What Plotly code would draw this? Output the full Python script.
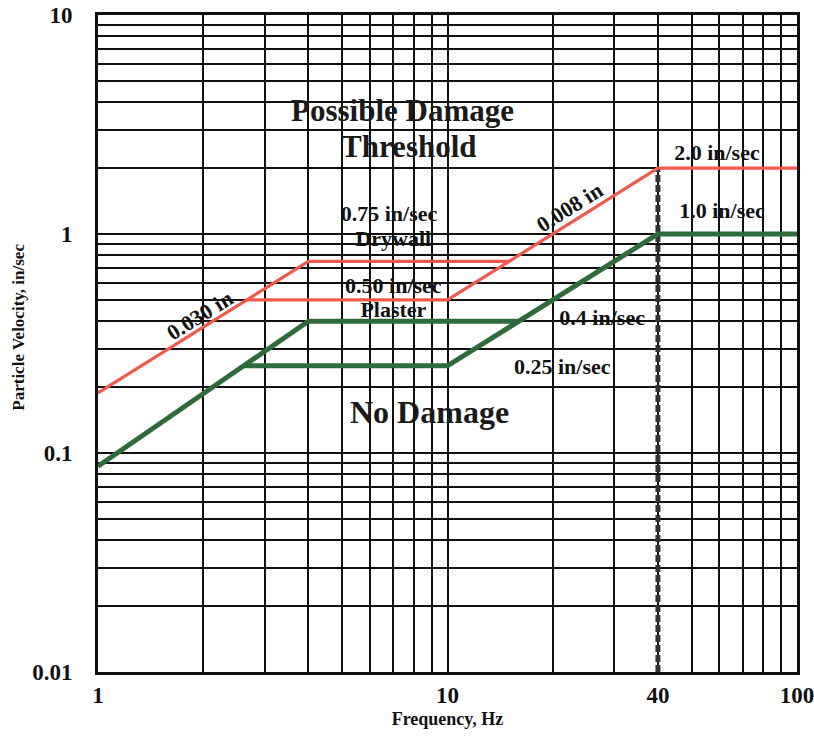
import math
import plotly.graph_objects as go

# ---- data ----
red_f = [1, 4, 15, None, 2.65, 10, 40, 100]
red_v = [0.188, 0.75, 0.75, None, 0.5, 0.5, 2.0, 2.0]

green_f = [1, 2.6, 4, 16, None, 2.6, 10, 40, 100]
green_v = [0.087, 0.25, 0.4, 0.4, None, 0.25, 0.25, 1.0, 1.0]

limit_f = [40, 40]
limit_v = [0.01, 2.0]

x_tickvals = [1, 2, 3, 4, 5, 6, 7, 8, 9, 10, 20, 30, 40, 50, 60, 70, 80, 90, 100]
x_ticktext = ["1", "", "", "", "", "", "", "", "", "10", "", "", "40", "", "", "", "", "", "100"]
y_tickvals = [0.01, 0.02, 0.03, 0.04, 0.05, 0.06, 0.07, 0.08, 0.09,
              0.1, 0.2, 0.3, 0.4, 0.5, 0.6, 0.7, 0.8, 0.9,
              1, 2, 3, 4, 5, 6, 7, 8, 9, 10]
y_ticktext = ["0.01", "", "", "", "", "", "", "", "",
              "0.1", "", "", "", "", "", "", "", "",
              "1", "", "", "", "", "", "", "", "", "10"]

# labels drawn underneath the lines
under_text = ["Drywall", "Plaster"]
under_f = [7.0, 7.0]
under_v = [0.93, 0.445]

# small labels
small_text = ["0.75 in/sec", "0.50 in/sec", "2.0 in/sec", "1.0 in/sec", "0.4 in/sec", "0.25 in/sec"]
small_f = [6.8, 7.0, 59, 61, 27.7, 21.3]
small_v = [1.22, 0.567, 2.30, 1.25, 0.405, 0.244]

big_text = ["Possible Damage", "Threshold", "No Damage"]
big_f = [7.43, 7.78, 8.87]
big_v = [3.68, 2.5, 0.154]
big_size = [31, 31, 32]

disp_text = ["0.030 in", "0.008 in"]
disp_f = [1.95, 22.3]
disp_v = [0.426, 1.32]

RED = "#F2594B"
GREEN = "#2E6B3A"
FONT = "Liberation Serif"

fig = go.Figure()

fig.add_trace(go.Scatter(
    x=under_f, y=under_v, mode="text", text=under_text,
    textfont=dict(family=FONT, size=22, color="#111", weight="bold"),
    hoverinfo="skip", showlegend=False))

fig.add_trace(go.Scatter(
    x=limit_f, y=limit_v, mode="lines",
    line=dict(color="#333333", width=5, dash="7px,3px"),
    hoverinfo="skip", showlegend=False))

fig.add_trace(go.Scatter(
    x=red_f, y=red_v, mode="lines", line=dict(color=RED, width=3.2),
    connectgaps=False, showlegend=False))

fig.add_trace(go.Scatter(
    x=green_f, y=green_v, mode="lines", line=dict(color=GREEN, width=5),
    connectgaps=False, showlegend=False))

fig.add_trace(go.Scatter(
    x=small_f, y=small_v, mode="text", text=small_text,
    textfont=dict(family=FONT, size=22, color="#111", weight="bold"),
    hoverinfo="skip", showlegend=False))

# annotations on log axes take log10 coordinates
for t, f, v, s in zip(big_text, big_f, big_v, big_size):
    fig.add_annotation(x=math.log10(f), y=math.log10(v), xref="x", yref="y",
                       text=t, showarrow=False,
                       font=dict(family=FONT, size=s, color="#1a1a1a", weight="bold"),
                       xanchor="center", yanchor="middle")

for t, f, v in zip(disp_text, disp_f, disp_v):
    fig.add_annotation(x=math.log10(f), y=math.log10(v), xref="x", yref="y",
                       text=t, showarrow=False, textangle=-32,
                       font=dict(family=FONT, size=22, color="#111", weight="bold"),
                       xanchor="center", yanchor="middle")

fig.add_annotation(x=-0.115, y=0.525, xref="paper", yref="paper",
                   text="Particle Velocity, in/sec", textangle=-90, showarrow=False,
                   font=dict(family=FONT, size=17, color="#111", weight="bold"),
                   xanchor="center", yanchor="middle")

fig.update_xaxes(
    type="log", range=[0, 2], automargin=False,
    tickvals=x_tickvals, ticktext=x_ticktext, ticklabeloverflow="allow",
    showgrid=True, gridcolor="#111", gridwidth=1.5,
    showline=True, linecolor="#111", linewidth=3, mirror=True,
    ticks="", ticklabelstandoff=0,
    tickfont=dict(family=FONT, size=23, color="#111", weight="bold"),
    title=dict(text="Frequency, Hz", standoff=6,
               font=dict(family=FONT, size=18, color="#111", weight="bold")),
    zeroline=False)

fig.update_yaxes(
    type="log", range=[-2, 1], automargin=False,
    tickvals=y_tickvals, ticktext=y_ticktext, ticklabeloverflow="allow",
    showgrid=True, gridcolor="#111", gridwidth=1.5,
    showline=True, linecolor="#111", linewidth=3, mirror=True,
    ticks="", ticklabelstandoff=18,
    tickfont=dict(family=FONT, size=23, color="#111", weight="bold"),
    zeroline=False)

fig.update_layout(
    width=814, height=739,
    margin=dict(l=98, r=17, t=15, b=67),
    paper_bgcolor="white", plot_bgcolor="white",
    showlegend=False)

fig.write_html("out.html",
               config={"displayModeBar": False},
               post_script="document.body.style.margin='0';document.body.style.overflow='hidden';")
